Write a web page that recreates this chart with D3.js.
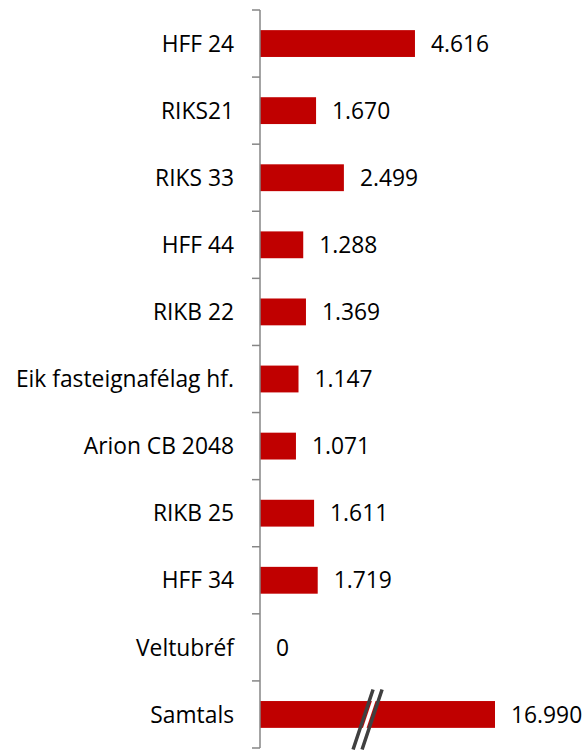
<!DOCTYPE html>
<html>
<head>
<meta charset="utf-8">
<script src="https://cdn.jsdelivr.net/npm/d3@7"></script>
<style>
  body { margin: 0; background: #fff; }
  svg text { font-family: "Open Sans", sans-serif; fill: #000; }
</style>
</head>
<body>
<svg id="chart" width="588" height="751"></svg>
<script>
const categories = ["HFF 24", "RIKS21", "RIKS 33", "HFF 44", "RIKB 22", "Eik fasteignafélag hf.",
    "Arion CB 2048", "RIKB 25", "HFF 34", "Veltubréf", "Samtals"];
const values = [4.616, 1.670, 2.499, 1.288, 1.369, 1.147, 1.071, 1.611, 1.719, 0, 16.990];
const valueLabels = ["4.616", "1.670", "2.499", "1.288", "1.369", "1.147", "1.071", "1.611", "1.719", "0", "16.990"];
const axisMax = 7;

const svg = d3.select("#chart");
const data = categories.map((c, i) => ({ name: c, value: values[i], label: valueLabels[i] }));

const x = d3.scaleLinear().domain([0, axisMax]).range([260, 495]);
const y = d3.scaleBand().domain(categories).range([10, 748]).paddingInner(0.6).paddingOuter(0.3);

// bars (values past the axis max are cut, the break mark shows it)
svg.selectAll(".bar")
    .data(data)
    .enter()
    .append("rect")
    .attr("class", "bar")
    .attr("x", x(0))
    .attr("y", d => y(d.name))
    .attr("width", d => x(Math.min(d.value, axisMax)) - x(0))
    .attr("height", y.bandwidth())
    .attr("fill", "#c00000");

// value labels
svg.selectAll(".val")
    .data(data)
    .enter()
    .append("text")
    .attr("class", "val")
    .attr("x", d => x(Math.min(d.value, axisMax)) + 16)
    .attr("y", d => y(d.name) + y.bandwidth() / 2)
    .attr("dy", "0.36em")
    .attr("font-size", 22.8)
    .text(d => d.label);

// category axis
const step = y.step();
const ticks = d3.range(categories.length + 1).map(i => 10 + i * step);
svg.append("line")
    .attr("x1", x(0)).attr("x2", x(0))
    .attr("y1", 10).attr("y2", 748)
    .attr("stroke", "#868686").attr("stroke-width", 1.5);
svg.selectAll(".tick")
    .data(ticks)
    .enter()
    .append("line")
    .attr("x1", x(0) - 8).attr("x2", x(0))
    .attr("y1", d => d).attr("y2", d => d)
    .attr("stroke", "#868686").attr("stroke-width", 1.5);

svg.selectAll(".cat")
    .data(data)
    .enter()
    .append("text")
    .attr("class", "cat")
    .attr("x", 234)
    .attr("y", d => y(d.name) + y.bandwidth() / 2)
    .attr("dy", "0.36em")
    .attr("text-anchor", "end")
    .attr("font-size", 22.8)
    .text(d => d.name);

// break mark on the Samtals bar
const by = y("Samtals") + y.bandwidth() / 2;
const bx = x(3.07);
[0, 9].forEach(off => {
    svg.append("line")
        .attr("x1", bx + 10 + off).attr("y1", by - 25)
        .attr("x2", bx - 10 + off).attr("y2", by + 35)
        .attr("stroke", "#404040").attr("stroke-width", 3.5);
});
svg.append("line")
    .attr("x1", bx + 14.5).attr("y1", by - 25)
    .attr("x2", bx - 5.5).attr("y2", by + 35)
    .attr("stroke", "#fff").attr("stroke-width", 3.5);
</script>
</body>
</html>
